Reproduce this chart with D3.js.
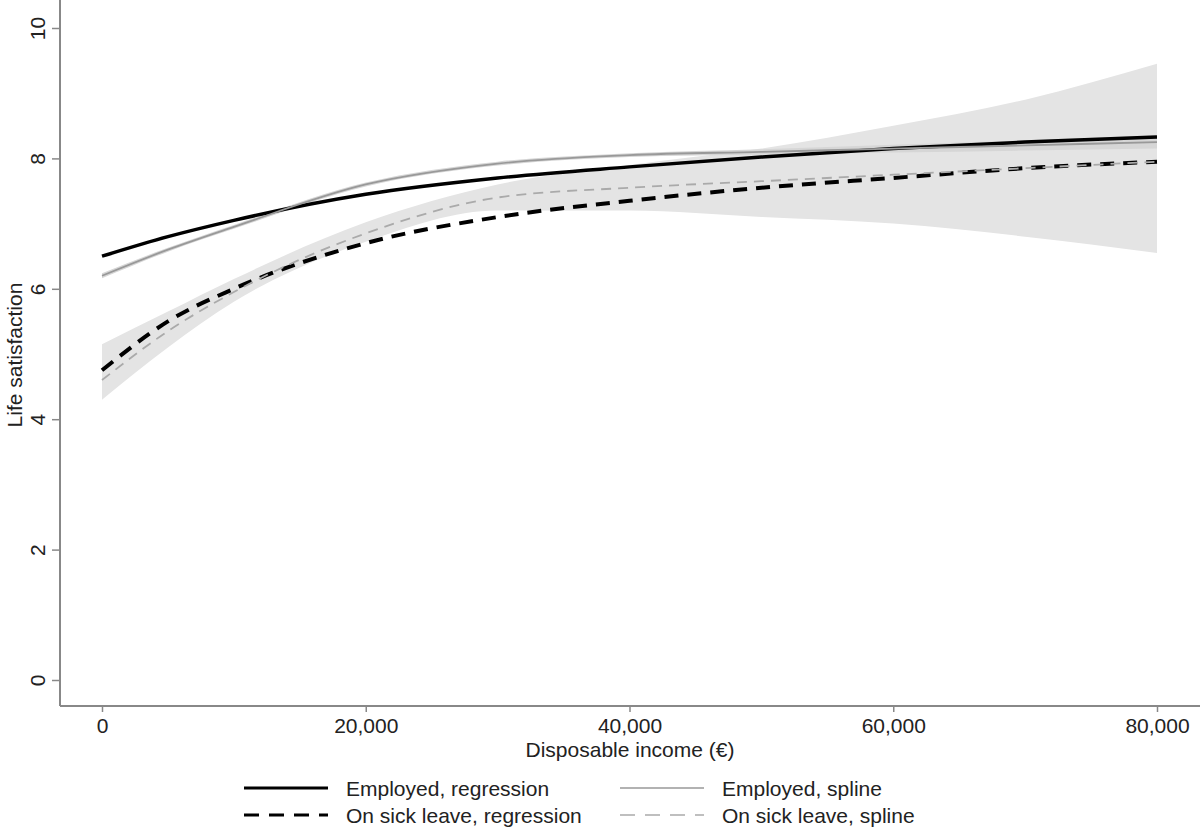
<!DOCTYPE html>
<html><head><meta charset="utf-8">
<script src="https://cdn.jsdelivr.net/npm/d3@7"></script>
<style>body{margin:0;background:#fff}svg{font-family:"Liberation Sans",Arial,sans-serif}</style>
</head><body><svg></svg>
<script>
const width = 1203, height = 833;
const incomes = [0, 5000, 10000, 20000, 30000, 40000, 50000, 60000, 70000, 80000];
const empReg = [6.5, 6.8, 7.05, 7.45, 7.7, 7.87, 8.02, 8.15, 8.25, 8.33];
const empSpline = [6.2, 6.6, 6.95, 7.6, 7.92, 8.05, 8.1, 8.15, 8.2, 8.25];
const empLo = [6.16, 6.57, 6.92, 7.57, 7.89, 8.02, 8.06, 8.09, 8.12, 8.15];
const empHi = [6.24, 6.63, 6.98, 7.63, 7.95, 8.08, 8.14, 8.21, 8.28, 8.35];
const sickReg = [4.75, 5.5, 6.0, 6.7, 7.1, 7.35, 7.55, 7.7, 7.85, 7.95];
const sickSpline = [4.6, 5.35, 5.95, 6.85, 7.4, 7.55, 7.65, 7.75, 7.85, 7.95];
const sickLo = [4.3, 5.1, 5.8, 6.72, 7.2, 7.2, 7.1, 7.0, 6.8, 6.55];
const sickHi = [5.15, 5.65, 6.15, 7.02, 7.6, 7.9, 8.15, 8.5, 8.9, 9.45];
const xTicks = [0, 20000, 40000, 60000, 80000];
const yTicks = [0, 2, 4, 6, 8, 10];

const svg = d3.select("svg").attr("width", width).attr("height", height);
const x = d3.scaleLinear().domain([0, 80000]).range([102, 1157]);
const y = d3.scaleLinear().domain([0, 10]).range([680, 28]);
const rows = a => incomes.map((v, i) => ({x: v, y: a[i]}));
const band = (lo, hi) => incomes.map((v, i) => ({x: v, lo: lo[i], hi: hi[i]}));
const area = d3.area().curve(d3.curveMonotoneX).x(d => x(d.x)).y0(d => y(d.lo)).y1(d => y(d.hi));
const line = d3.line().curve(d3.curveMonotoneX).x(d => x(d.x)).y(d => y(d.y));

svg.append("path").attr("d", area(band(sickLo, sickHi))).attr("fill", "#e4e4e4");
svg.append("path").attr("d", area(band(empLo, empHi))).attr("fill", "#d6d6d6");

const series = [
  {name: "Employed, regression", data: empReg, color: "#000", w: 3.5, dash: null},
  {name: "Employed, spline", data: empSpline, color: "#999", w: 1.8, dash: null},
  {name: "On sick leave, regression", data: sickReg, color: "#000", w: 4, dash: "14,9"},
  {name: "On sick leave, spline", data: sickSpline, color: "#aaa", w: 1.8, dash: "10,7"}
];
series.forEach(s => svg.append("path").attr("d", line(rows(s.data))).attr("fill", "none")
  .attr("stroke", s.color).attr("stroke-width", s.w).attr("stroke-dasharray", s.dash));

//axes
const fs = 21;
const xAxis = svg.append("g").attr("transform", "translate(0,706)")
  .call(d3.axisBottom(x).tickValues(xTicks).tickFormat(d3.format(",")).tickSize(6).tickSizeOuter(0));
xAxis.select(".domain").attr("d", "M60,0H1200");
const yAxis = svg.append("g").attr("transform", "translate(60,0)")
  .call(d3.axisLeft(y).tickValues(yTicks).tickSize(8).tickSizeOuter(0));
yAxis.select(".domain").attr("d", "M0,0V706");
svg.selectAll(".domain").attr("stroke", "#888").attr("stroke-width", 2);
svg.selectAll(".tick line").attr("stroke", "#888").attr("stroke-width", 1.5);
svg.selectAll(".tick text").attr("font-size", fs).attr("fill", "#222");
xAxis.selectAll(".tick text").attr("y", 27).attr("dy", 0);
yAxis.selectAll(".tick text")
  .attr("x", 0).attr("y", 0).attr("dy", 0).attr("text-anchor", "middle")
  .attr("transform", "translate(-15,0) rotate(-90)");

svg.append("text").attr("x", 630).attr("y", 757).attr("text-anchor", "middle").attr("font-size", fs).attr("fill", "#222").text("Disposable income (€)");
svg.append("text").attr("transform", "translate(22,355) rotate(-90)").attr("text-anchor", "middle").attr("font-size", fs).attr("fill", "#222").text("Life satisfaction");

//legend
const pos = [[244, 788], [620, 788], [244, 815], [620, 815]];
series.forEach((s, i) => {
  const [lx, ly] = pos[i];
  svg.append("line").attr("x1", lx).attr("x2", lx + 84).attr("y1", ly).attr("y2", ly)
    .attr("stroke", s.color).attr("stroke-width", s.w * 0.8).attr("stroke-dasharray", s.dash ? "15,10" : null);
  svg.append("text").attr("x", lx + 102).attr("y", ly + 8).attr("font-size", fs).attr("fill", "#222").text(s.name);
});
</script></body></html>
